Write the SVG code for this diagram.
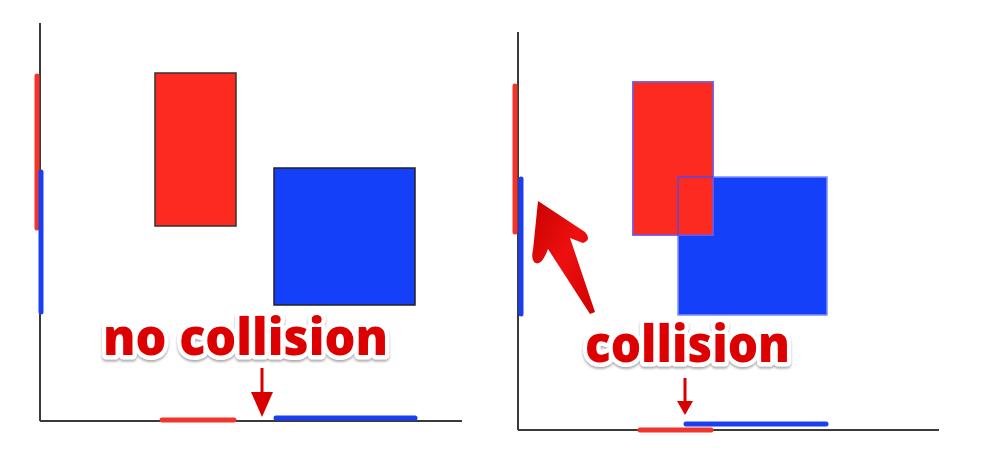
<svg xmlns="http://www.w3.org/2000/svg" width="984" height="461" viewBox="0 0 984 461">
<defs>
<style>
.axis{stroke:#3a3a3a;stroke-width:2;fill:none}
.rbar{stroke:#f2342a;stroke-width:5;stroke-linecap:round;fill:none}
.bbar{stroke:#1a3ff0;stroke-width:5;stroke-linecap:round;fill:none}
.redfill{fill:#fd2a1f}
.bluefill{fill:#1340f8}
.lbl{font-family:"Open Sans","DejaVu Sans",sans-serif;font-weight:800;font-size:51px}
.halo{fill:#fff;stroke:#fff;stroke-width:9;stroke-linejoin:round;filter:url(#sh)}
.txt{fill:#dc0000}
.arr{fill:#d90000}
</style>
<filter id="sh" x="-10%" y="-30%" width="120%" height="160%">
<feDropShadow dx="0" dy="2" stdDeviation="1.2" flood-color="#888" flood-opacity="0.7"/>
</filter>
<linearGradient id="ag" x1="0" y1="0" x2="1" y2="1">
<stop offset="0" stop-color="#c80000"/>
<stop offset="0.5" stop-color="#ee1010"/>
<stop offset="1" stop-color="#d00000"/>
</linearGradient>
</defs>
<rect width="984" height="461" fill="#fff"/>

<g id="left-panel">
<g id="left-axes">
<line class="axis" x1="40" y1="23" x2="40" y2="421"/>
<line class="axis" x1="40" y1="421" x2="462" y2="421"/>
</g>
<g id="left-red-box"><rect class="redfill" x="155" y="73" width="81" height="153" stroke="#333" stroke-width="1.5"/></g>
<g id="left-blue-box"><rect class="bluefill" x="274" y="168" width="141" height="137" stroke="#222" stroke-width="1.5"/></g>
<g id="left-projections">
<line class="rbar" x1="37" y1="76" x2="37" y2="228"/>
<line class="bbar" x1="41" y1="172" x2="41" y2="312"/>
<line class="rbar" x1="162" y1="420" x2="234" y2="420"/>
<line class="bbar" x1="276" y1="418" x2="415" y2="418"/>
</g>
<g id="left-label">
<text class="lbl halo" x="103" y="355" textLength="285" lengthAdjust="spacingAndGlyphs">no collision</text>
<text class="lbl txt" x="103" y="355" textLength="285" lengthAdjust="spacingAndGlyphs">no collision</text>
</g>
</g>

<g id="right-panel">
<g id="right-axes">
<line class="axis" x1="518" y1="32" x2="518" y2="430"/>
<line class="axis" x1="518" y1="430" x2="939" y2="430"/>
</g>
<g id="right-blue-box"><rect class="bluefill" x="678" y="177" width="149" height="138" stroke="#7f8cff" stroke-width="1.5"/></g>
<g id="right-red-box"><rect class="redfill" x="633" y="82" width="80" height="153" stroke="#7a55d8" stroke-width="1.8"/>
<path d="M678,235 V177 H713" fill="none" stroke="#7a40b8" stroke-width="1.8"/></g>
<g id="right-projections">
<line class="rbar" x1="515" y1="86" x2="515" y2="232"/>
<line class="bbar" x1="521" y1="179" x2="521" y2="314"/>
<line class="bbar" x1="686" y1="424" x2="826" y2="424"/>
<line class="rbar" x1="640" y1="430" x2="711" y2="430"/>
</g>
<g id="right-label">
<text class="lbl halo" x="585" y="362" textLength="205" lengthAdjust="spacingAndGlyphs">collision</text>
<text class="lbl txt" x="585" y="362" textLength="205" lengthAdjust="spacingAndGlyphs">collision</text>
</g>
</g>

<g id="connectors">
<path class="arr" d="M260.5,368 h3 v24 h9.5 l-11,25 l-11,-25 h9.5 z"/>
<path class="arr" d="M683.5,378 h3 v23 h6.5 l-8,14 l-8,-14 h6.5 z"/>
<path fill="url(#ag)" d="M538,201 L585,232 Q592,240 583,243 L570,238 L595,312 L590,314 L548,249 Q541,268 534,262 Q531,258 533,250 Z"/>
</g>
</svg>
